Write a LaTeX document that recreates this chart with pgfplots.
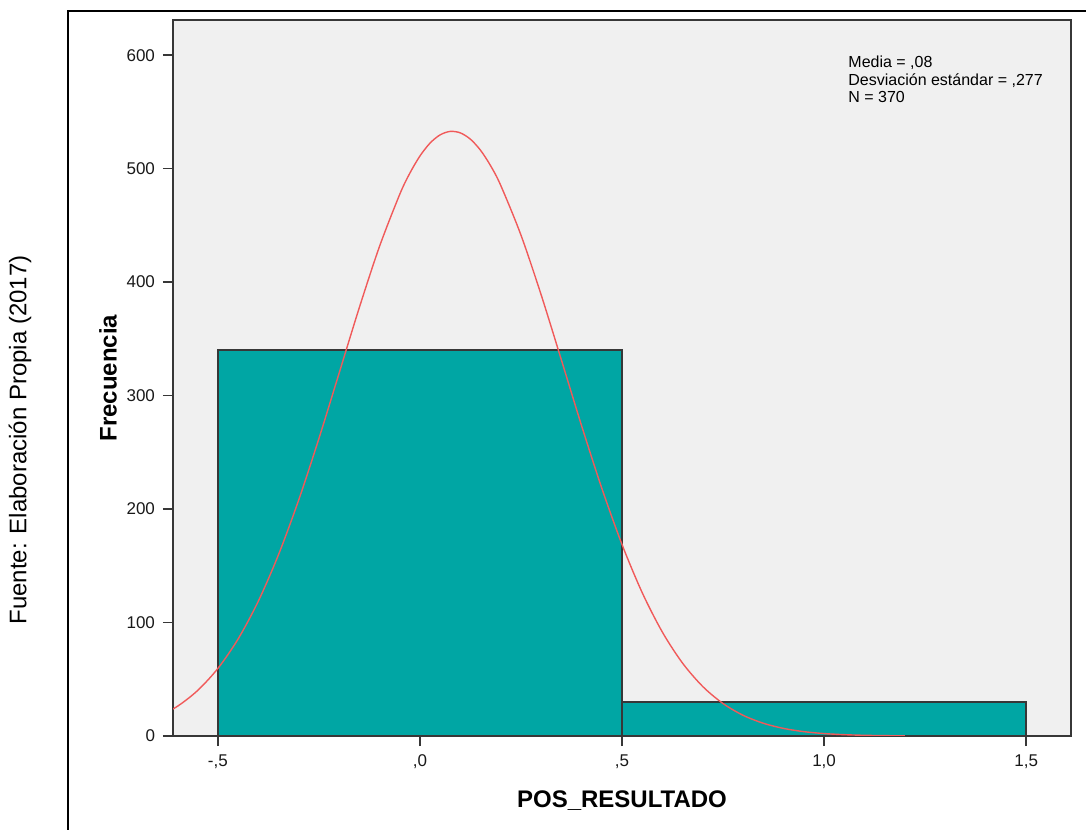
\documentclass[border=0pt]{standalone}
\usepackage{fontspec}
\setmainfont{Liberation Sans}
\usepackage{pgfplots}
\pgfplotsset{compat=1.18}

\definecolor{spssbg}{RGB}{240,240,240}
\definecolor{barteal}{RGB}{0,166,164}
\definecolor{curvered}{RGB}{240,90,90}
\definecolor{edgegray}{RGB}{55,55,55}

\begin{document}
\begin{tikzpicture}
\useasboundingbox (0,0) rectangle (543bp,415bp);
% outer frame (runs off the page to the right and bottom)
\draw[line width=1bp] (33.75bp,-10bp) -- (33.75bp,409.5bp) -- (560bp,409.5bp);
% source note
\node[rotate=90, font=\fontsize{12bp}{14bp}\selectfont] at (10bp,195bp)
    {Fuente: Elaboración Propia (2017)};

\begin{axis}[
    at={(86.5bp,47bp)}, anchor=south west,
    scale only axis,
    width=449bp, height=358bp,
    xmin=-0.611, xmax=1.611,
    ymin=0, ymax=631,
    axis background/.style={fill=spssbg},
    axis line style={edgegray, line width=0.7bp},
    tick pos=left,
    tick align=outside,
    major tick length=5bp,
    tick style={edgegray, line width=0.8bp},
    xtick={-0.5,0,0.5,1,1.5},
    xticklabels={{-,5},{,0},{,5},{1,0},{1,5}},
    ytick={0,100,200,300,400,500,600},
    /pgf/number format/assume math mode=true,
    ticklabel style={font=\fontsize{8.5bp}{10bp}\selectfont, text=black!90},
    xticklabel style={yshift=-1bp},
    yticklabel style={xshift=-0.5bp},
    xlabel={\textbf{POS\_RESULTADO}},
    ylabel={\textbf{Frecuencia}},
    label style={font=\fontsize{12bp}{14bp}\selectfont},
    xlabel style={yshift=-4bp},
    ylabel style={yshift=-2bp},
    clip=true,
]
% histogram bins (width 1)
\addplot[ybar interval, fill=barteal, draw=edgegray, line width=0.9bp]
    coordinates {(-0.5,340) (0.5,30) (1.5,30)};

% normal curve, mean ,08 sd ,277 N=370 (tabulated)
\addplot[curvered, line width=0.7bp, smooth, tension=0.5, no markers] coordinates {
(-0.65,16.54) (-0.60,26.18) (-0.55,40.12) (-0.50,59.51) (-0.45,85.43)
(-0.40,118.74) (-0.35,159.73) (-0.30,207.96) (-0.25,262.10) (-0.20,319.74)
(-0.15,377.51) (-0.10,431.47) (-0.05,477.33) (-0.025,495.96) (0.00,511.13)
(0.025,522.50) (0.05,529.78) (0.075,532.81) (0.10,531.51) (0.125,525.91)
(0.15,516.16) (0.175,502.47) (0.20,485.17) (0.25,441.42) (0.30,388.73)
(0.35,331.41) (0.40,273.44) (0.45,218.38) (0.50,168.81) (0.55,126.31)
(0.60,91.48) (0.65,64.14) (0.70,43.53) (0.75,28.59) (0.80,18.18)
(0.85,11.19) (0.90,6.66) (0.95,3.84) (1.00,2.14) (1.05,1.16)
(1.10,0.61) (1.15,0.31) (1.20,0.15)
};

\node[anchor=north west, inner sep=0pt, align=left,
      font=\fontsize{8bp}{8.75bp}\selectfont]
    at (axis description cs:0.7517,0.9497)
    {Media = ,08\\Desviación estándar = ,277\\N = 370};
\end{axis}
\end{tikzpicture}
\end{document}
